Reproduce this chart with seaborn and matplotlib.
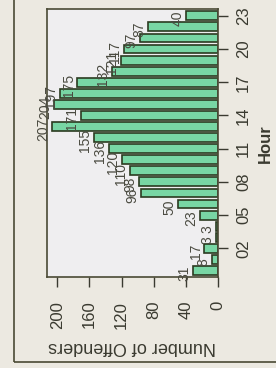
import matplotlib
matplotlib.use("Agg")
import matplotlib.pyplot as plt
import seaborn as sns
from matplotlib.patches import Rectangle

hours = list(range(24))
offenders = [31, 8, 17, 3, 3, 23, 50, 96, 98, 110, 120, 136,
             155, 207, 171, 204, 197, 175, 132, 121, 117, 97, 87, 40]
hour_ticks = [2, 5, 8, 11, 14, 17, 20, 23]
count_ticks = [0, 40, 80, 120, 160, 200]

sns.set_style("white")
plt.rcParams["font.family"] = ["Liberation Sans", "DejaVu Sans"]
narrow = ["Liberation Sans Narrow", "Liberation Sans", "DejaVu Sans"]
ink = "#3A3A30"

fig = plt.figure(figsize=(2.76, 3.68), dpi=100, facecolor="#ECE9E1")
ax = fig.add_axes([0.170, 0.247, 0.620, 0.728])
ax.set_facecolor("#EFEEF0")

sns.barplot(x=offenders, y=hours, orient="h", native_scale=True, width=0.8,
            color="#78D6A4", saturation=1, edgecolor="#2B3A20", linewidth=1.2, ax=ax)

# value labels, drawn just past the end of each bar
for h, v in zip(hours, offenders):
    ax.text(v + 2, h - 0.25, str(v), rotation=90, ha="right", va="center",
            fontsize=10, family=narrow, color="#4A4A40")

ax.set_xlim(213, 0)
ax.set_ylim(-0.6, 23.6)

ax.set_xticks(count_ticks)
ax.set_xticklabels([str(c) for c in count_ticks], rotation=90, fontsize=12,
                   family=narrow, color=ink)
ax.set_yticks(hour_ticks)
ax.set_yticklabels([f"{h:02d}" for h in hour_ticks], rotation=90, va="center",
                   fontsize=12, family=narrow, color=ink)
ax.yaxis.tick_right()
ax.yaxis.set_label_position("right")
ax.tick_params(axis="x", direction="out", length=7, width=1, pad=10, colors=ink,
               bottom=True)
ax.tick_params(axis="y", direction="out", length=7, width=1, pad=6, colors=ink,
               right=True, left=False)

ax.set_xlabel("Number of Offenders", rotation=180, fontsize=13, color=ink, labelpad=7)
ax.set_ylabel("Hour", rotation=90, fontsize=12, fontweight="bold", family=narrow,
              color=ink, labelpad=5)

for s in ax.spines.values():
    s.set_color("#4A4A35")
    s.set_linewidth(1.2)

# outer frame of the scanned figure
fig.patches.append(Rectangle((0.05, 0.016), 1.2, 1.2, transform=fig.transFigure,
                             fill=False, edgecolor="#4A4A35", linewidth=1.2))

fig.savefig("out.png", dpi=100, facecolor=fig.get_facecolor())
